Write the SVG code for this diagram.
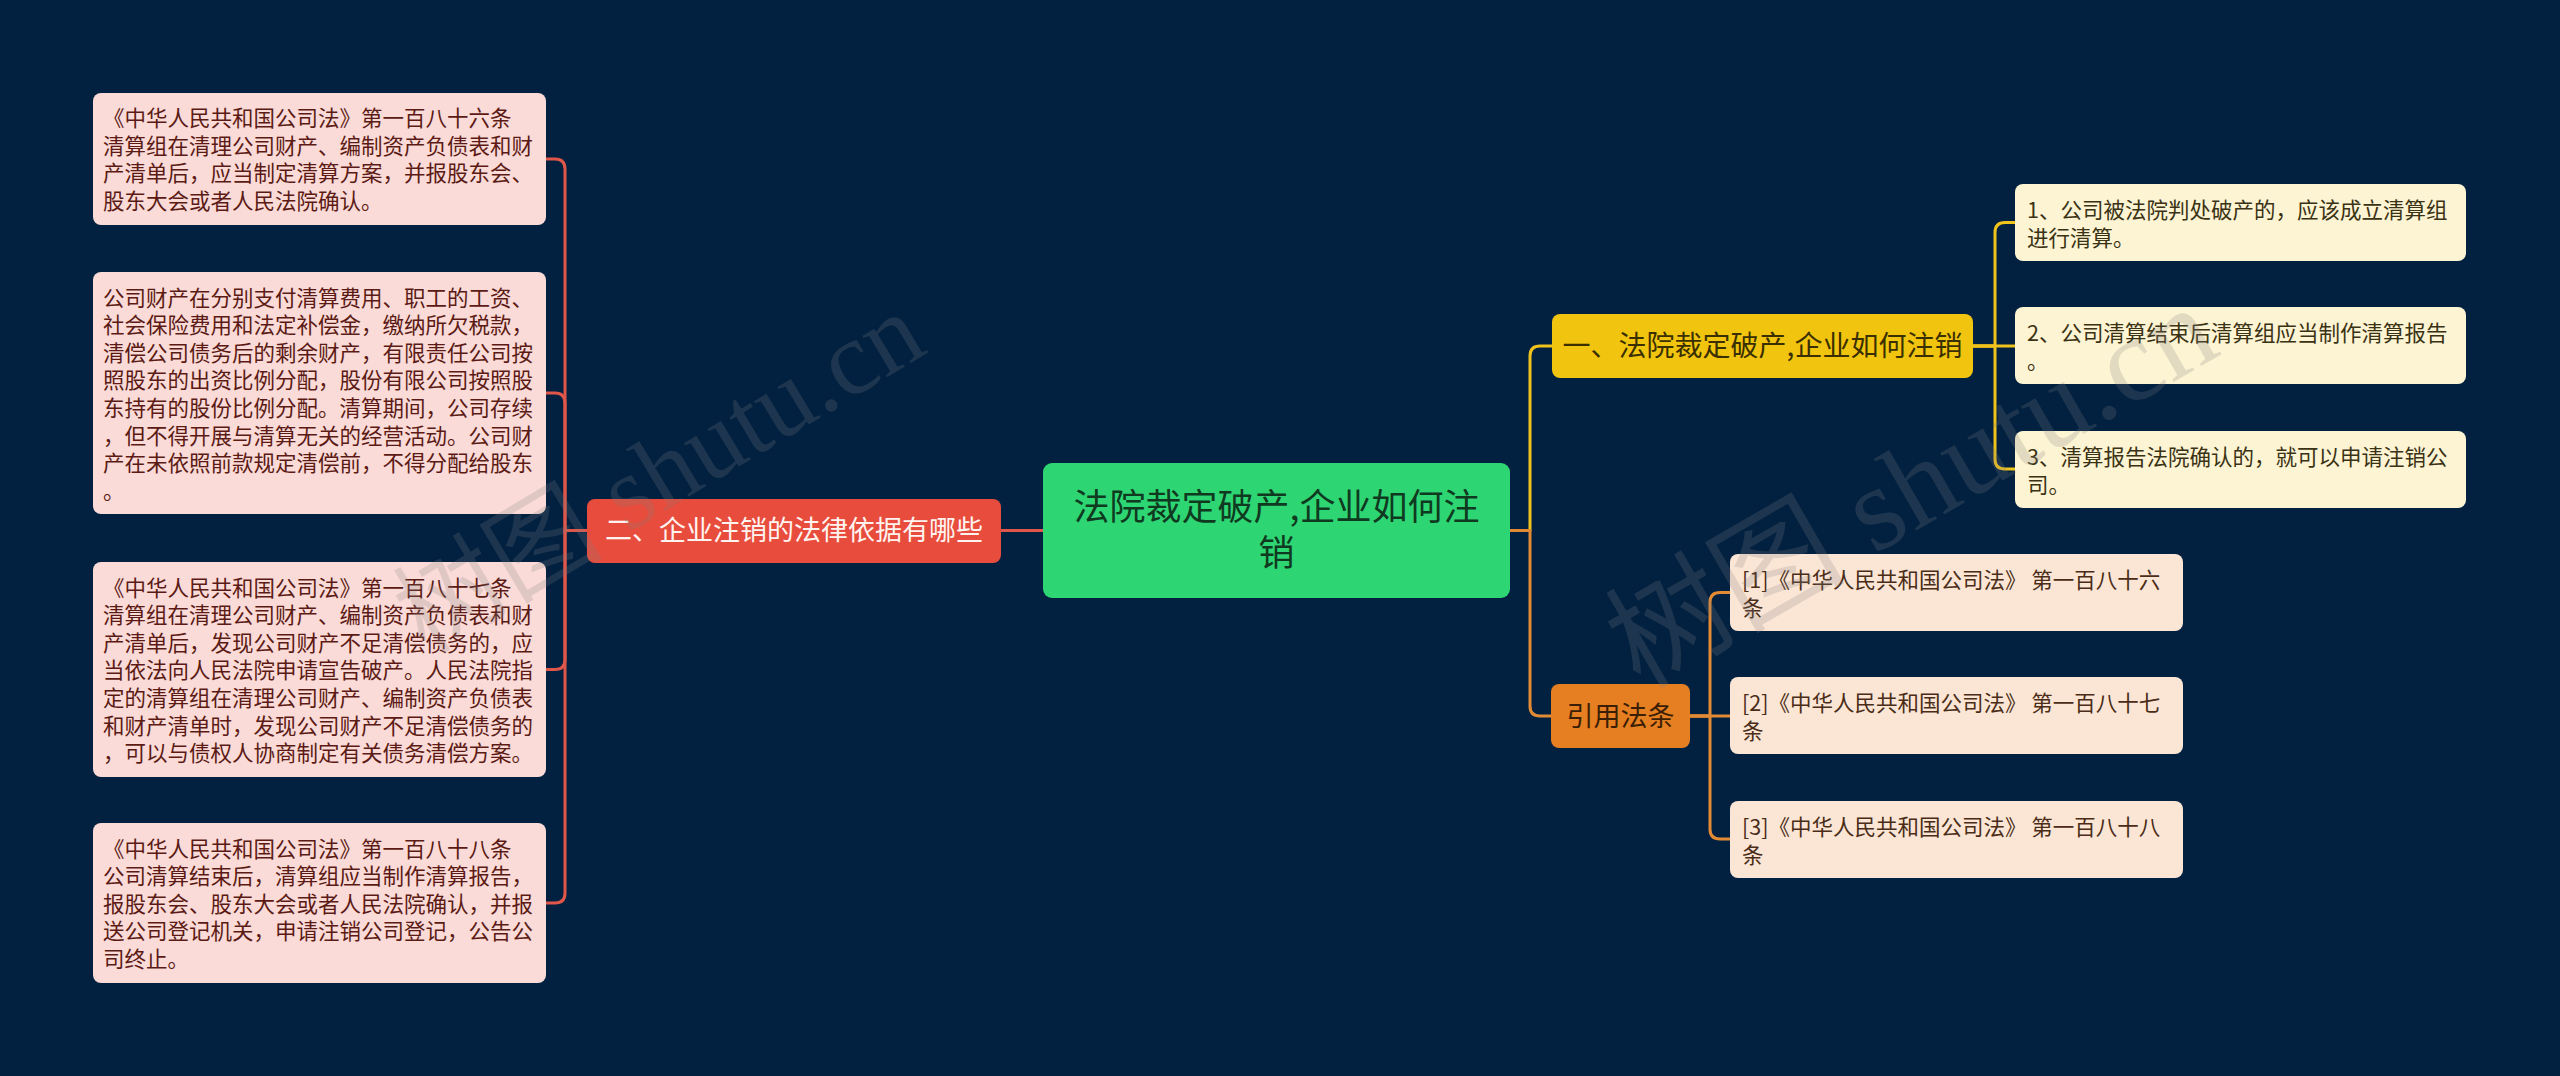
<svg xmlns="http://www.w3.org/2000/svg" width="2560" height="1076" viewBox="0 0 2560 1076">
<style>
text{font-family:"Noto Sans CJK SC","Noto Sans",sans-serif}
.cn{fill:none;stroke-width:3;stroke-linecap:round;stroke-linejoin:round}
.red{stroke:#e0574a}
.yel{stroke:#efc21c}
.org{stroke:#e38a35}
.leafL{fill:#fadbd8}
.leafY{fill:#fdf4d3}
.leafP{fill:#fbe6d5}
.tL{fill:#5c1a14;font-size:21.5px}
.tY{fill:#3a3214;font-size:21.5px}
.tP{fill:#4a2c17;font-size:21.5px}
.wm{fill:#808080;fill-opacity:0.22}
</style>
<rect width="2560" height="1076" fill="#022140"/>
<g id="connectors">
<path class="cn red" d="M1043 530.5 H1001"/>
<path class="cn red" d="M587 530.5 H565 V169 Q565 159 555 159 H546"/>
<path class="cn red" d="M587 530.5 H565 V403 Q565 393 555 393 H546"/>
<path class="cn red" d="M587 530.5 H565 V659.5 Q565 669.5 555 669.5 H546"/>
<path class="cn red" d="M587 530.5 H565 V893 Q565 903 555 903 H546"/>
<path class="cn yel" d="M1510 530.5 H1530 V356 Q1530 346 1540 346 H1552"/>
<path class="cn org" d="M1510 530.5 H1530 V706 Q1530 716 1540 716 H1551"/>
<path class="cn yel" d="M1973 346 H1995 V232.5 Q1995 222.5 2005 222.5 H2015"/>
<path class="cn yel" d="M1973 346 H2015"/>
<path class="cn yel" d="M1973 346 H1995 V459 Q1995 469 2005 469 H2015"/>
<path class="cn org" d="M1690 716 H1710 V602.5 Q1710 592.5 1720 592.5 H1730"/>
<path class="cn org" d="M1690 716 H1730"/>
<path class="cn org" d="M1690 716 H1710 V829 Q1710 839 1720 839 H1730"/>
</g>
<g id="root">
<rect x="1043" y="463" width="467" height="135" rx="9" fill="#2ed573"/>
<text x="1276.5" y="520" font-size="36" fill="#0f3a1f" text-anchor="middle">法院裁定破产,企业如何注</text>
<text x="1276.5" y="566" font-size="36" fill="#0f3a1f" text-anchor="middle">销</text>
</g>
<g id="branch2">
<rect x="587" y="499" width="414" height="64" rx="8" fill="#e74c3c"/>
<text x="794" y="540" font-size="27" fill="#fff3f0" text-anchor="middle">二、企业注销的法律依据有哪些</text>
</g>
<g id="branch1">
<rect x="1552" y="314" width="421" height="64" rx="8" fill="#f1c40f"/>
<text x="1762.5" y="356" font-size="28" fill="#3a2f00" text-anchor="middle">一、法院裁定破产,企业如何注销</text>
</g>
<g id="branch3">
<rect x="1551" y="684" width="139" height="64" rx="8" fill="#e67e22"/>
<text x="1620.5" y="726" font-size="27" fill="#3a1e05" text-anchor="middle">引用法条</text>
</g>
<g id="leafL1">
<rect class="leafL" x="93" y="93" width="453" height="132" rx="8"/>
<text class="tL"><tspan x="103" y="126">《中华人民共和国公司法》第一百八十六条</tspan><tspan x="103" y="153.6">清算组在清理公司财产、编制资产负债表和财</tspan><tspan x="103" y="181.2">产清单后，应当制定清算方案，并报股东会、</tspan><tspan x="103" y="208.8">股东大会或者人民法院确认。</tspan></text>
</g>
<g id="leafL2">
<rect class="leafL" x="93" y="272" width="453" height="242" rx="8"/>
<text class="tL"><tspan x="103" y="305.5">公司财产在分别支付清算费用、职工的工资、</tspan><tspan x="103" y="333.1">社会保险费用和法定补偿金，缴纳所欠税款，</tspan><tspan x="103" y="360.7">清偿公司债务后的剩余财产，有限责任公司按</tspan><tspan x="103" y="388.3">照股东的出资比例分配，股份有限公司按照股</tspan><tspan x="103" y="415.9">东持有的股份比例分配。清算期间，公司存续</tspan><tspan x="103" y="443.5">，但不得开展与清算无关的经营活动。公司财</tspan><tspan x="103" y="471.1">产在未依照前款规定清偿前，不得分配给股东</tspan><tspan x="103" y="498.7">。</tspan></text>
</g>
<g id="leafL3">
<rect class="leafL" x="93" y="562" width="453" height="215" rx="8"/>
<text class="tL"><tspan x="103" y="595.5">《中华人民共和国公司法》第一百八十七条</tspan><tspan x="103" y="623.1">清算组在清理公司财产、编制资产负债表和财</tspan><tspan x="103" y="650.7">产清单后，发现公司财产不足清偿债务的，应</tspan><tspan x="103" y="678.3">当依法向人民法院申请宣告破产。人民法院指</tspan><tspan x="103" y="705.9">定的清算组在清理公司财产、编制资产负债表</tspan><tspan x="103" y="733.5">和财产清单时，发现公司财产不足清偿债务的</tspan><tspan x="103" y="761.1">，可以与债权人协商制定有关债务清偿方案。</tspan></text>
</g>
<g id="leafL4">
<rect class="leafL" x="93" y="823" width="453" height="160" rx="8"/>
<text class="tL"><tspan x="103" y="856.5">《中华人民共和国公司法》第一百八十八条</tspan><tspan x="103" y="884.1">公司清算结束后，清算组应当制作清算报告，</tspan><tspan x="103" y="911.7">报股东会、股东大会或者人民法院确认，并报</tspan><tspan x="103" y="939.3">送公司登记机关，申请注销公司登记，公告公</tspan><tspan x="103" y="966.9">司终止。</tspan></text>
</g>
<g id="leafY1">
<rect class="leafY" x="2015" y="184" width="451" height="77" rx="8"/>
<text class="tY"><tspan x="2027" y="217.5">1、公司被法院判处破产的，应该成立清算组</tspan><tspan x="2027" y="245.5">进行清算。</tspan></text>
</g>
<g id="leafY2">
<rect class="leafY" x="2015" y="307" width="451" height="77" rx="8"/>
<text class="tY"><tspan x="2027" y="340.5">2、公司清算结束后清算组应当制作清算报告</tspan><tspan x="2027" y="368.5">。</tspan></text>
</g>
<g id="leafY3">
<rect class="leafY" x="2015" y="431" width="451" height="77" rx="8"/>
<text class="tY"><tspan x="2027" y="464.5">3、清算报告法院确认的，就可以申请注销公</tspan><tspan x="2027" y="492.5">司。</tspan></text>
</g>
<g id="leafP1">
<rect class="leafP" x="1730" y="554" width="453" height="77" rx="8"/>
<text class="tP"><tspan x="1742" y="587.5">[1]《中华人民共和国公司法》 第一百八十六</tspan><tspan x="1742" y="615.5">条</tspan></text>
</g>
<g id="leafP2">
<rect class="leafP" x="1730" y="677" width="453" height="77" rx="8"/>
<text class="tP"><tspan x="1742" y="710.5">[2]《中华人民共和国公司法》 第一百八十七</tspan><tspan x="1742" y="738.5">条</tspan></text>
</g>
<g id="leafP3">
<rect class="leafP" x="1730" y="801" width="453" height="77" rx="8"/>
<text class="tP"><tspan x="1742" y="834.5">[3]《中华人民共和国公司法》 第一百八十八</tspan><tspan x="1742" y="862.5">条</tspan></text>
</g>
<g id="watermarks">
<text class="wm" transform="translate(425 655) rotate(-31)" font-size="105"><tspan font-family="Noto Sans CJK SC,sans-serif">树图</tspan><tspan font-family="Liberation Serif,serif"> shutu.cn</tspan></text>
<text class="wm" transform="translate(1640 690) rotate(-30)" font-size="120"><tspan font-family="Noto Sans CJK SC,sans-serif">树图</tspan><tspan font-family="Liberation Serif,serif"> shutu.cn</tspan></text>
</g>
</svg>
